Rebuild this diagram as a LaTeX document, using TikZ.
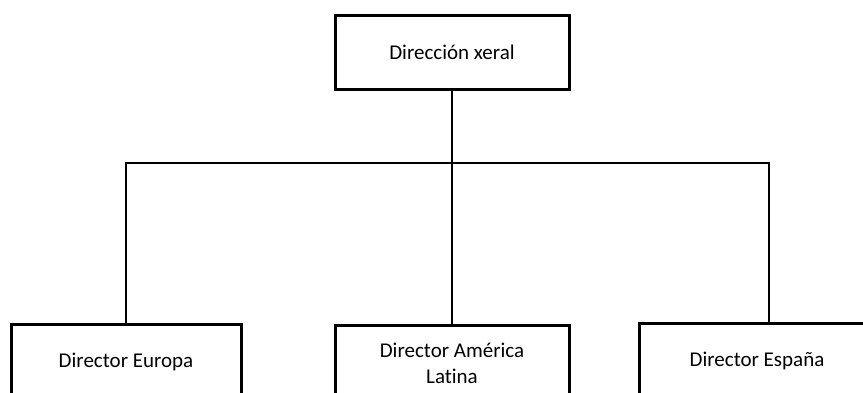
\documentclass[tikz,border=0pt]{standalone}
\usepackage{fontspec}
\setmainfont{Carlito}[Ligatures=NoCommon]
\begin{document}
\begin{tikzpicture}[x=1pt,y=-1pt,
  box/.style={draw, line width=3pt, inner sep=0pt, align=center,
    font=\fontsize{21}{26}\selectfont},
  conn/.style={line width=1.3pt}]
\useasboundingbox (0,0) rectangle (863,392);
\clip (0,0) rectangle (863,392);
\node[box, minimum width=234pt, minimum height=74pt] (top) at (452,52) {Dirección xeral};
\node[box, minimum width=230pt, minimum height=76pt] (eu) at (126,362) {Director Europa};
\node[box, minimum width=234pt, minimum height=76pt] (am) at (452,363) {Director América\\Latina};
\node[box, minimum width=236pt, minimum height=76pt] (es) at (757,361) {Director España};
\coordinate (hl) at (0,163);
\coordinate (esin) at (769,323);
\draw[conn] (top.south) -- (am.north);
\draw[conn] (eu.north) -- (eu.north |- hl) -- (esin |- hl) -- (esin);
\end{tikzpicture}
\end{document}
